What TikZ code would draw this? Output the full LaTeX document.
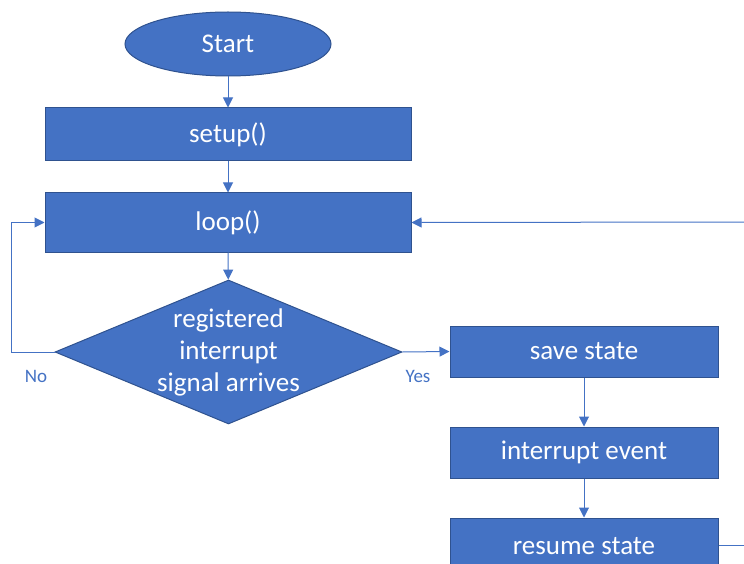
\documentclass[tikz,border=0pt]{standalone}
\usepackage{fontspec}
\setmainfont{Carlito}
\usetikzlibrary{shapes.geometric,arrows.meta}
\definecolor{boxfill}{HTML}{4472C4}
\definecolor{boxline}{HTML}{2F528F}
\definecolor{conn}{HTML}{4472C4}
\begin{document}
\begin{tikzpicture}[x=1pt,y=-1pt,
  blk/.style={draw=boxline,line width=1pt,fill=boxfill,text=white,font=\fontsize{27}{32}\selectfont,inner sep=0pt},
  rbox/.style={blk,rectangle},
  conline/.style={draw=conn,line width=1pt,-{Triangle[length=10pt,width=10pt]}},
  lbl/.style={text=conn,font=\fontsize{19}{22}\selectfont}]
\clip (0,0) rectangle (744,564);
\useasboundingbox (0,0) rectangle (744,564);
\node[blk,ellipse,minimum width=206pt,minimum height=64pt] (start) at (228,44) {Start};
\node[rbox,minimum width=366pt,minimum height=53pt] (setup) at (228,134.5) {setup()};
\node[rbox,minimum width=366pt,minimum height=59pt] (loop) at (228,222.5) {loop()};
\node[blk,diamond,minimum width=347pt,minimum height=144pt] (dec) at (228.5,352) {};
\node[text=white,align=center,font=\fontsize{27}{32}\selectfont,inner sep=0pt] (dectext) at (dec.center) {registered\\interrupt\\signal arrives};
\node[rbox,minimum width=268pt,minimum height=51pt] (save) at (584,351.5) {save state};
\node[rbox,minimum width=268pt,minimum height=51pt] (event) at (584,452.5) {interrupt event};
\node[rbox,minimum width=268pt,minimum height=56pt] (resume) at (584,546) {resume state};
\coordinate (rr) at (750,222);
\coordinate (rb) at (750,545);
\draw[conline] (start) -- (setup);
\draw[conline] (setup) -- (loop);
\draw[conline] (loop) -- (dec);
\draw[conline] (dec.west) -- (11,352) |- (loop.west);
\draw[conline] (dec.east) -- (save.west);
\draw[conline] (save) -- (event);
\draw[conline] (event) -- (resume);
\draw[draw=conn,line width=1pt] (resume.east|-rb) -- (rb);
\draw[conline] (rr) -- (loop.east);
\node[lbl] (no) at (36,376) {No};
\node[lbl] (yes) at (418,376) {Yes};
\end{tikzpicture}
\end{document}
